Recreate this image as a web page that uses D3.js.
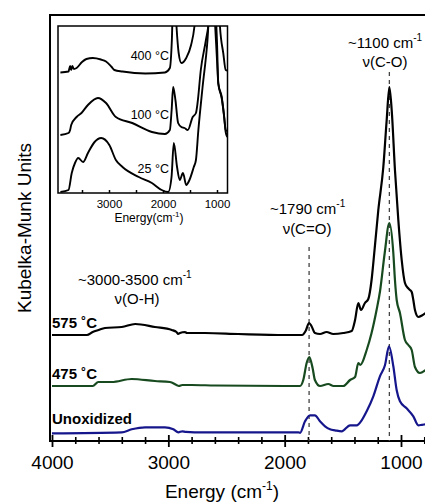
<!DOCTYPE html>
<html>
<head>
<meta charset="utf-8">
<script src="https://cdn.jsdelivr.net/npm/d3@7"></script>
<style>
  body { margin: 0; background: #fff; }
  svg { display: block; font-family: "Liberation Sans", Arial, Helvetica, sans-serif; }
</style>
</head>
<body>
<div id="chart"></div>
<script>
// main spectra (wavenumber cm-1, Kubelka-Munk value above its own baseline)
var wn575 = [4000,3700,3650,3600,3545,3400,3285,3115,2970,2930,2915,2900,2857,2840,2685,2400,2000,1850,1820,1790,1770,1740,1696,1640,1582,1496,1424,1395,1367,1344,1310,1281,1253,1238,1195,1152,1123,1100,1080,1052,1023,994,966,940,923,908,894,880,851,820,790];
var km575 = [0,0,0.03,0.05,0.07,0.08,0.11,0.08,0.05,0.03,0.01,0.02,0.03,0.02,0.02,0.01,0,0,0.04,0.12,0.09,0.02,0.01,0.03,0.01,0.02,0.04,0.15,0.32,0.25,0.32,0.36,0.55,0.72,1.25,1.68,2.15,2.48,2.25,1.65,1.15,0.75,0.52,0.47,0.45,0.43,0.35,0.25,0.18,0.195,0.22];

var wn475 = [4000,3650,3602,3487,3315,3115,2986,2930,2910,2880,2800,2600,2000,1868,1840,1811,1788,1760,1740,1696,1625,1580,1496,1438,1395,1367,1350,1295,1253,1210,1180,1140,1100,1066,1052,1037,1009,966,937,908,880,837,790];
var km475 = [0,0,0.04,0.04,0.07,0.05,0.04,0.01,0,0.01,0.01,0.005,0,0,0.06,0.23,0.29,0.18,0.06,0,0.02,0,0,0.06,0.09,0.23,0.21,0.36,0.53,0.76,0.95,1.33,1.63,1.33,1.06,0.86,0.73,0.46,0.41,0.36,0.19,0.13,0.16];

var wnUnox = [4000,3401,3315,3200,3029,2957,2914,2880,2850,2700,2000,1883,1868,1825,1782,1740,1696,1653,1610,1567,1510,1438,1381,1338,1295,1238,1181,1138,1103,1066,1037,1009,952,894,851,820,790];
var kmUnox = [0,0.01,0.04,0.06,0.06,0.04,0.01,0.02,0.015,0.01,0.01,0.01,0.005,0.12,0.18,0.18,0.12,0.07,0.04,0.03,0.02,0.08,0.08,0.13,0.22,0.37,0.57,0.68,0.87,0.67,0.43,0.32,0.25,0.17,0.08,0.085,0.09];

var mainNames = ["575 \u02daC", "475 \u02daC", "Unoxidized"];
var mainOffsets = [1.06, 0.55, 0.077];
var mainColors = ["#000000", "#174a1f", "#16168c"];

// inset spectra
var wn400 = [3900,3750,3720,3700,3680,3650,3600,3500,3418,3300,3150,3055,2950,2900,2750,2327,1964,1873,1836,1800,1750,1710,1660,1570,1480,1418,1380,1100,960,945,883,839,810];
var km400 = [0,0.01,0.065,0.025,0.065,0.035,0.045,0.105,0.135,0.145,0.13,0.11,0.055,0.025,0.01,-0.01,0,0.045,0.325,1.0,0.46,0.195,0.095,0.145,0.275,0.46,0.7,2.5,0.6,0.46,0.19,0.025,0.02];

var wn100 = [3900,3750,3720,3700,3600,3510,3390,3205,3055,2873,2570,2205,1964,1873,1840,1812,1770,1720,1660,1600,1540,1450,1390,1360,1300,1205,1150,1100,1040,1000,976,913,870,839,810];
var km100 = [0,0.02,0.05,0.1,0.18,0.22,0.3,0.37,0.32,0.18,0.12,0.03,0.01,0.05,0.25,0.48,0.35,0.12,0.08,0.07,0.05,0.18,0.22,0.32,0.65,0.95,1.15,1.6,1.15,0.75,0.52,0.38,0.2,0.05,0.04];

var wn25 = [3900,3750,3690,3630,3570,3480,3390,3267,3145,2994,2873,2750,2448,2206,2024,1903,1842,1800,1740,1690,1630,1570,1510,1430,1390,1345,1267,1176,1100,1000,976,913,870,839,810];
var km25 = [0,0.02,0.19,0.29,0.34,0.3,0.39,0.5,0.54,0.47,0.32,0.25,0.15,0.09,0.02,0,0.15,0.49,0.25,0.12,0.19,0.07,0.12,0.25,0.32,0.62,1.05,1.52,2.2,1.5,1.08,0.94,0.76,0.6,0.55];

var insetNames = ["400 \u00b0C", "100 \u00b0C", "25 \u00b0C"];
var insetOffsets = [1.205, 0.58, 0.01];

var mainTicks = [4000, 3000, 2000, 1000];
var mainMinor = [3800,3600,3400,3200,2800,2600,2400,2200,1800,1600,1400,1200,800];
var insetTicks = [3000, 2000, 1000];
var insetMinor = [3500, 2500, 1500];

var markers = [1790, 1100];

var W = 425, H = 503;
var svg = d3.select("#chart").append("svg")
    .attr("width", W)
    .attr("height", H);

var x = d3.scaleLinear().domain([4000, 1000]).range([52, 401]);
var y = d3.scaleLinear().domain([0, 4.26]).range([441, 15]);

function series(wn, km) {
    return wn.map(function(w, i) { return { w: w, v: km[i] }; });
}

// frame: left and top
svg.append("path")
    .attr("d", "M50,441V15H" + W)
    .attr("fill", "none")
    .attr("stroke", "#000")
    .attr("stroke-width", 2);

// bottom axis
var xAxisG = svg.append("g").attr("transform", "translate(0,441)");
xAxisG.call(d3.axisBottom(x).tickValues(mainMinor).tickFormat(""))
    .call(function(g) { g.select(".domain").remove(); })
    .selectAll(".tick line").attr("y1", -4).attr("y2", 3).attr("stroke-width", 1.6);
var xMajor = svg.append("g").attr("transform", "translate(0,441)");
xMajor.call(d3.axisBottom(x).tickValues(mainTicks).tickFormat(d3.format("d")))
    .call(function(g) { g.select(".domain").remove(); });
xMajor.selectAll(".tick line").attr("y1", -6).attr("y2", 6).attr("stroke-width", 1.8);
xMajor.selectAll(".tick text")
    .attr("y", 28).attr("dy", 0)
    .style("font-size", "19px")
    .style("font-family", "Liberation Sans, Arial, sans-serif")
    .attr("fill", "#000");
svg.append("line")
    .attr("x1", 49).attr("x2", W)
    .attr("y1", 441).attr("y2", 441)
    .attr("stroke", "#000").attr("stroke-width", 2);

// axis titles
var xt = svg.append("text")
    .attr("x", 222).attr("y", 498)
    .attr("text-anchor", "middle")
    .style("font-size", "19px")
    .text("Energy (cm");
xt.append("tspan").attr("dy", -8).style("font-size", "12px").text("-1");
xt.append("tspan").attr("dy", 8).text(")");

svg.append("text")
    .attr("transform", "translate(31,228) rotate(-90)")
    .attr("text-anchor", "middle")
    .style("font-size", "19px")
    .text("Kubelka-Munk Units");

// dashed markers
var markerTop = [247, 72];
markers.forEach(function(m, i) {
    svg.append("line")
        .attr("x1", x(m)).attr("x2", x(m))
        .attr("y1", markerTop[i]).attr("y2", 441)
        .attr("stroke", "#444")
        .attr("stroke-width", 1.3)
        .attr("stroke-dasharray", "4,4");
});

// spectra
var line = d3.line()
    .curve(d3.curveMonotoneX);

var mainData = [series(wn575, km575), series(wn475, km475), series(wnUnox, kmUnox)];
mainData.forEach(function(d, i) {
    line.x(function(p) { return x(p.w); })
        .y(function(p) { return y(p.v + mainOffsets[i]); });
    svg.append("path")
        .datum(d)
        .attr("fill", "none")
        .attr("stroke", mainColors[i])
        .attr("stroke-width", 2.2)
        .attr("stroke-linejoin", "round")
        .attr("d", line);
});

// series labels
var labelY = [328, 379, 424];
mainNames.forEach(function(n, i) {
    svg.append("text")
        .attr("x", 52).attr("y", labelY[i])
        .style("font-size", "15px")
        .style("font-weight", "bold")
        .text(n);
});

// peak annotations
function annot(tx, ty, main) {
    var t = svg.append("text")
        .attr("x", tx).attr("y", ty)
        .style("font-size", "15px")
        .text(main);
    t.append("tspan").attr("dy", -7).style("font-size", "10px").text("-1");
    return t;
}
annot(78, 285, "~3000-3500 cm");
svg.append("text").attr("x", 137).attr("y", 304).attr("text-anchor", "middle")
    .style("font-size", "15px").text("\u03bd(O-H)");
annot(270, 214, "~1790 cm");
svg.append("text").attr("x", 307).attr("y", 234).attr("text-anchor", "middle")
    .style("font-size", "15px").text("\u03bd(C=O)");
annot(348, 48, "~1100 cm");
svg.append("text").attr("x", 385).attr("y", 67).attr("text-anchor", "middle")
    .style("font-size", "15px").text("\u03bd(C-O)");

// ---------- inset ----------
var ix = d3.scaleLinear().domain([3000, 1000]).range([109, 217]);
var iy = d3.scaleLinear().domain([0, 1.67]).range([193, 26]);
var inL = 58, inR = 227.5, inT = 26, inB = 193;

svg.append("clipPath").attr("id", "inclip")
    .append("rect")
    .attr("x", inL).attr("y", inT)
    .attr("width", inR - inL).attr("height", inB - inT);

var insetData = [series(wn400, km400), series(wn100, km100), series(wn25, km25)];
var ig = svg.append("g").attr("clip-path", "url(#inclip)");
insetData.forEach(function(d, i) {
    var l = d3.line().curve(d3.curveMonotoneX)
        .x(function(p) { return ix(p.w); })
        .y(function(p) { return iy(p.v + insetOffsets[i]); });
    ig.append("path")
        .datum(d)
        .attr("fill", "none")
        .attr("stroke", "#000")
        .attr("stroke-width", 1.9)
        .attr("stroke-linejoin", "round")
        .attr("d", l);
});

svg.append("rect")
    .attr("x", inL).attr("y", inT)
    .attr("width", inR - inL).attr("height", inB - inT)
    .attr("fill", "none")
    .attr("stroke", "#000")
    .attr("stroke-width", 1.5);

var ia = svg.append("g").attr("transform", "translate(0," + inB + ")");
ia.call(d3.axisBottom(ix).tickValues(insetTicks.concat(insetMinor)).tickFormat(function(d) {
        return insetTicks.indexOf(d) >= 0 ? d : "";
    }))
    .call(function(g) { g.select(".domain").remove(); });
ia.selectAll(".tick line").attr("y1", -3).attr("y2", 0).attr("stroke-width", 1.5);
ia.selectAll(".tick text")
    .attr("y", 15).attr("dy", 0)
    .style("font-size", "11.5px")
    .style("font-family", "Liberation Sans, Arial, sans-serif")
    .attr("fill", "#000");

var it = svg.append("text")
    .attr("x", 149).attr("y", 222)
    .attr("text-anchor", "middle")
    .style("font-size", "12px")
    .text("Energy(cm");
it.append("tspan").attr("dy", -5).style("font-size", "8px").text("-1");
it.append("tspan").attr("dy", 5).text(")");

var insetLabelY = [60, 119, 173];
insetNames.forEach(function(n, i) {
    svg.append("text")
        .attr("x", 169).attr("y", insetLabelY[i])
        .attr("text-anchor", "end")
        .style("font-size", "12.5px")
        .text(n);
});
</script>
</body>
</html>
